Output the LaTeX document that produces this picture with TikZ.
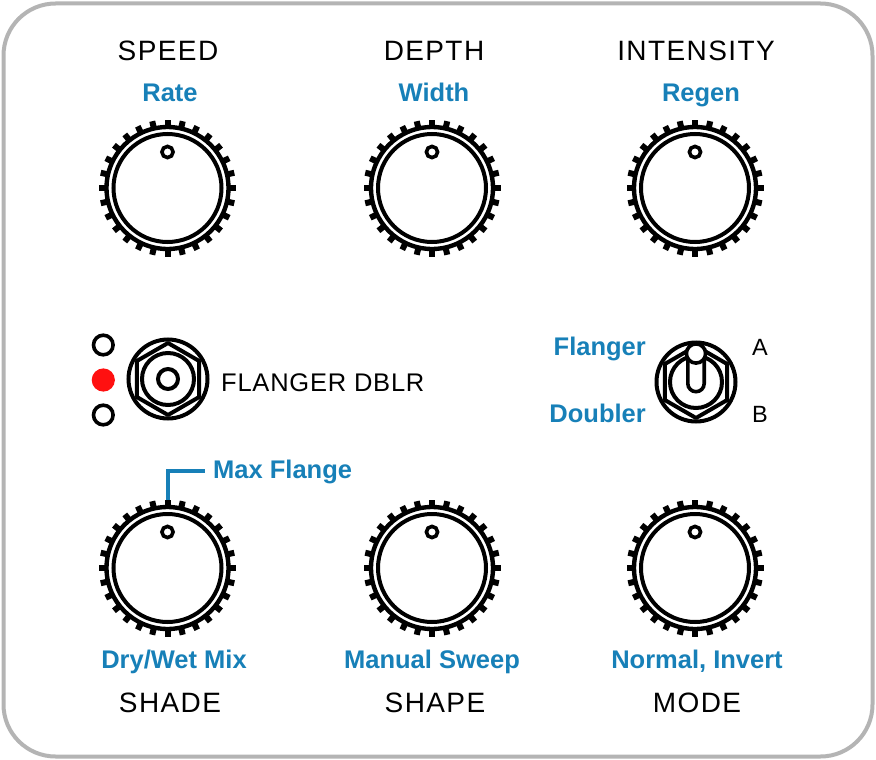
\documentclass[tikz,border=0pt]{standalone}
\usepackage{fontspec}
\setmainfont{Liberation Sans}
\newfontfamily\capfont[LetterSpace=5]{Liberation Sans}
\newfontfamily\lblfont[LetterSpace=0]{Liberation Sans}
\definecolor{blu}{HTML}{1780B8}
\definecolor{framegray}{HTML}{B4B4B4}
\definecolor{ledred}{HTML}{FF1010}
\tikzset{
  captxt/.style={font=\capfont\fontsize{28}{32}\selectfont, inner sep=0pt, anchor=base},
  smallcaptxt/.style={font=\capfont\fontsize{23.5}{26}\selectfont, inner sep=0pt, anchor=base west},
  lbltxt/.style={font=\lblfont\bfseries\fontsize{25.5}{28}\selectfont, text=blu, inner sep=0pt, anchor=base},
  stroke/.style={line width=4pt, draw=black},
  leader/.style={line width=4pt, draw=blu},
  knob/.pic={
    \foreach \i in {0,...,27}{\fill[rotate=\i*12.857142] (-3,-60) rectangle (3,-68.5);}
    \draw[line width=4.4pt] (0,0) circle[radius=61];
    \draw[line width=4pt] (0,0) circle[radius=54];
    \draw[line width=3.6pt] (0,-36) circle[radius=5.6];
  },
  hexnut/.pic={
    \draw[stroke] (0,0) circle[radius=39.5];
    \draw[stroke, line join=round] (90:36) -- (150:36) -- (210:36) -- (270:36) -- (330:36) -- (30:36) -- cycle;
    \draw[stroke] (0,0) circle[radius=26];
  }
}
\begin{document}
\begin{tikzpicture}[x=1pt,y=-1pt]
\useasboundingbox (0,0) rectangle (876,760);
% panel
\draw[line width=4pt, draw=framegray, fill=white, rounded corners=52pt] (3.5,3.5) rectangle (872.5,756.5);

% knobs
\pic (k1) at (167.5,188) {knob};
\pic (k2) at (432,188) {knob};
\pic (k3) at (695,188) {knob};
\pic (k4) at (167.5,568) {knob};
\pic (k5) at (432,568) {knob};
\pic (k6) at (695,568) {knob};

% top labels
\node[captxt] (speed) at (168,61) {SPEED};
\node[lbltxt] (rate) at (170,101) {Rate};
\node[captxt] (depth) at (434,61) {DEPTH};
\node[lbltxt] (width) at (434,101) {Width};
\node[captxt] (intensity) at (696,61) {INTENSITY};
\node[lbltxt] (regen) at (701,101) {Regen};

% bottom labels
\node[lbltxt] (drywet) at (174,668) {Dry/Wet Mix};
\node[captxt] (shade) at (170,712) {SHADE};
\node[lbltxt] (manual) at (432,668) {Manual Sweep};
\node[captxt] (shape) at (435,712) {SHAPE};
\node[lbltxt] (normal) at (697,668) {Normal, Invert};
\node[captxt] (mode) at (697,712) {MODE};

% footswitch
\pic (fs) at (168,379) {hexnut};
\draw[stroke] (168,379) circle[radius=10];
\node[font=\capfont\fontsize{25.5}{28}\selectfont, inner sep=0pt, anchor=base west, text=black] (fsl) at (221,391) {\addfontfeature{LetterSpace=3}FLANGER DBLR};

% LEDs
\draw[line width=3.6pt] (103.3,345) circle[radius=9.8];
\fill[ledred] (103.3,380) circle[radius=11.6];
\draw[line width=3.6pt] (103.3,415) circle[radius=9.8];

% toggle switch
\pic (tg) at (696,382) {hexnut};
\filldraw[line width=3.6pt, fill=white] (687.8,356) -- (687.8,383.5) arc[start angle=180, end angle=0, radius=8.2] -- (704.2,356);
\filldraw[line width=3.6pt, fill=white] (696,353.5) circle[radius=9.6];
\node[lbltxt, anchor=base east] (flanger) at (646,355) {Flanger};
\node[lbltxt, anchor=base east] (doubler) at (646,422) {Doubler};
\node[smallcaptxt] (a) at (752,355) {A};
\node[smallcaptxt] (b) at (752,422) {B};

% max flange leader
\node[lbltxt, anchor=base west] (maxfl) at (213,478) {Max Flange};
\coordinate (k4top) at (168.3,500);
\coordinate (mfcorner) at (168.3,471);
\coordinate (mfend) at (205,471);
\draw[leader] (k4top) -- (mfcorner) -- (mfend);
\end{tikzpicture}
\end{document}
